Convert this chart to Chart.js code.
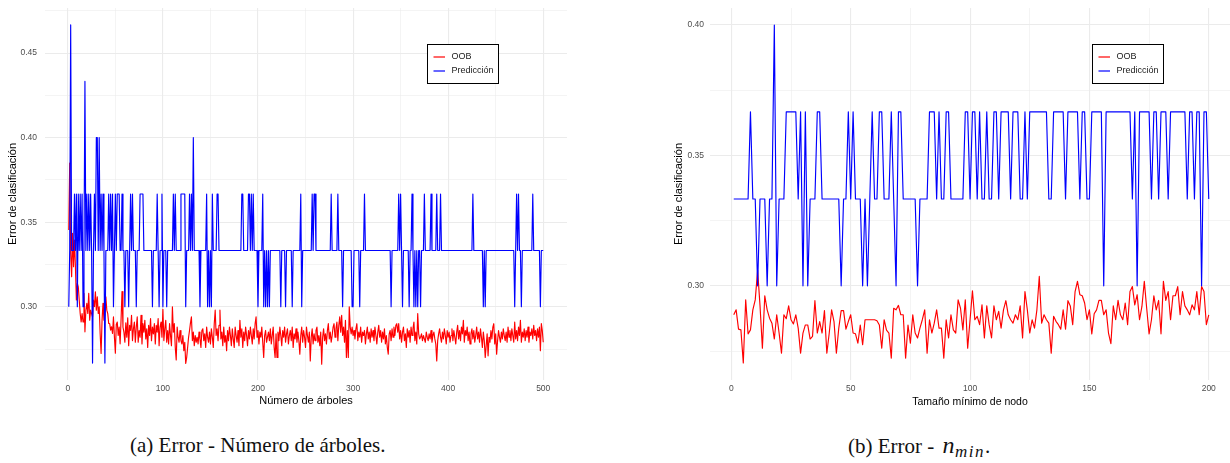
<!DOCTYPE html>
<html>
<head>
<meta charset="utf-8">
<script src="https://cdn.jsdelivr.net/npm/chart.js@4.4.1/dist/chart.umd.min.js"></script>
<style>
  html, body { margin: 0; padding: 0; background: #fff; width: 1230px; height: 463px; overflow: hidden; }
  .panel { position: absolute; top: 0; }
  #panelA { left: 0; }
  #panelB { left: 665px; }
  .cap { position: absolute; top: 435px; font-family: "Liberation Serif", "DejaVu Serif", serif; font-size: 21px; line-height: 21px; color: #111; white-space: nowrap; }
  #capA { left: 130px; }
  #capB { left: 848px; }
  #capB i { font-size: 24px; margin-left: 3px; letter-spacing: 0.5px; }
  #capB sub { font-size: 17px; font-style: italic; letter-spacing: 1.5px; vertical-align: -4px; line-height: 0; }
</style>
</head>
<body>
<div class="panel" id="panelA"><canvas id="chartA" width="567" height="412"></canvas></div>
<div class="panel" id="panelB"><canvas id="chartB" width="565" height="412"></canvas></div>
<div class="cap" id="capA">(a) Error - Número de árboles.</div>
<div class="cap" id="capB">(b) Error - <i>n</i><sub>min</sub>.</div>
<script>
// Random forest tuning: classification error (OOB vs. test-set prediction)

// (a) error by number of trees, trees 1..500
const arbolesOOB = [
  .3454,.385,.3316,.3178,.3434,.3237,.3395,.3237,.304,.3138,
  .3118,.304,.296,.2911,.296,.2911,.3079,.2852,.298,.302,
  .296,.3079,.2921,.298,.296,.294,.304,.30,.3089,.298,
  .3059,.296,.30,.2842,.2724,.2921,.302,.2921,.296,.3059,
  .298,.296,.2901,.2901,.2862,.2882,.2842,.294,.2822,.2725,
  .2895,.291,.283,.288,.2781,.2925,.309,.288,.285,.279,
  .2905,.282,.2935,.277,.289,.286,.295,.28,.287,.291,
  .279,.288,.294,.279,.286,.282,.295,.278,.29,.285,
  .292,.281,.287,.276,.289,.283,.293,.28,.288,.284,
  .29,.278,.289,.285,.293,.277,.288,.291,.282,.2985,
  .28,.287,.292,.279,.286,.278,.29,.283,.277,.30,
  .285,.29,.276,.2685,.288,.282,.279,.286,.28,.278,
  .283,.274,.279,.2665,.27,.276,.282,.286,.2905,.294,
  .28,.285,.277,.283,.279,.282,.278,.285,.281,.276,
  .286,.287,.28,.284,.276,.288,.282,.279,.285,.278,
  .287,.282,.276,.29,.298,.283,.287,.28,.289,.298,
  .281,.285,.277,.288,.279,.283,.274,.286,.28,.288,
  .283,.277,.287,.281,.276,.288,.283,.279,.286,.277,
  .292,.282,.287,.276,.285,.28,.288,.283,.277,.286,
  .281,.288,.283,.278,.287,.281,.29,.294,.282,.286,
  .278,.285,.282,.288,.279,.27,.283,.286,.279,.282,
  .285,.28,.287,.278,.283,.288,.276,.27,.284,.27,
  .285,.28,.288,.283,.277,.286,.282,.288,.279,.284,
  .287,.278,.283,.286,.28,.288,.276,.284,.281,.287,
  .279,.285,.28,.272,.283,.288,.279,.286,.282,.276,
  .288,.283,.279,.285,.268,.282,.287,.278,.284,.28,
  .286,.288,.279,.283,.277,.285,.266,.282,.287,.28,
  .284,.278,.286,.29,.281,.285,.279,.283,.288,.29,
  .282,.287,.291,.28,.289,.294,.285,.295,.283,.288,
  .279,.292,.27,.286,.27,.30,.288,.284,.288,.283,
  .286,.281,.287,.29,.28,.285,.282,.288,.279,.285,
  .283,.286,.278,.284,.288,.281,.285,.279,.287,.282,
  .286,.28,.288,.283,.278,.285,.289,.282,.286,.279,
  .285,.281,.287,.278,.283,.276,.272,.284,.286,.28,
  .287,.282,.288,.283,.289,.29,.285,.29,.281,.286,
  .279,.285,.288,.28,.284,.276,.287,.282,.286,.279,
  .288,.283,.287,.291,.28,.285,.278,.296,.284,.281,
  .282,.284,.28,.283,.281,.279,.285,.282,.28,.284,
  .281,.286,.279,.283,.285,.281,.278,.268,.28,.284,
  .287,.282,.279,.285,.281,.287,.283,.278,.286,.282,
  .285,.279,.283,.287,.28,.286,.282,.278,.285,.289,
  .281,.286,.28,.288,.284,.292,.279,.286,.283,.288,
  .28,.285,.278,.284,.287,.281,.286,.279,.283,.288,
  .281,.285,.279,.287,.282,.276,.285,.28,.27,.277,
  .284,.271,.282,.279,.286,.281,.288,.29,.278,.284,
  .272,.28,.286,.282,.279,.285,.281,.287,.283,.28,
  .285,.279,.288,.282,.286,.28,.287,.283,.279,.291,
  .281,.286,.28,.288,.283,.292,.279,.285,.282,.287,
  .28,.286,.282,.288,.279,.285,.283,.287,.281,.289,
  .283,.286,.28,.287,.282,.288,.274,.29,.286,.279
];
const arbolesPrediccion = [
  .3,.3333,.4667,.3333,.3333,.3333,.3667,.3333,.3667,.3,.3667,.3333,.3667,.3333,.3667,.3,.3333,.4333,.3333,.3667,
  .3333,.3667,.3333,.3667,.3333,.2667,.3333,.3667,.3333,.4,.4,.3333,.4,.3333,.3667,.3333,.3667,.3333,.2667,.3333,
  .3333,.3333,.3667,.3333,.3667,.3333,.3667,.3,.3333,.3667,.3333,.3667,.3667,.3667,.3333,.3333,.3667,.3333,.3333,.3,
  .3333,.3333,.3333,.3,.3333,.3667,.3333,.3667,.3333,.3333,.3333,.3,.3333,.3333,.3333,.3667,.3667,.3667,.3667,.3333,
  .3333,.3333,.3333,.3333,.3333,.3333,.3333,.3333,.3,.3333,.3333,.3333,.3333,.3667,.3333,.3,.3333,.3333,.3667,.3,
  .3333,.3333,.3333,.3,.3333,.3333,.3333,.3333,.3333,.3333,.3667,.3333,.3667,.3333,.3333,.3333,.3333,.3333,.3667,.3667,
  .3667,.3667,.3667,.3,.3333,.3333,.3333,.3667,.3333,.3667,.3333,.4,.3333,.3333,.3333,.3333,.3333,.3333,.3,.3333,
  .3333,.3333,.3333,.3333,.3333,.3667,.3,.3333,.3,.3333,.3,.3667,.3333,.3333,.3333,.3333,.3667,.3667,.3333,.3333,
  .3333,.3333,.3333,.3333,.3333,.3333,.3333,.3333,.3333,.3333,.3333,.3333,.3333,.3333,.3333,.3333,.3333,.3333,.3333,.3333,
  .3333,.3333,.3667,.3667,.3333,.3333,.3333,.3333,.3333,.3667,.3667,.3333,.3667,.3333,.3667,.3333,.3333,.3333,.3333,.3,
  .3333,.3333,.3333,.3333,.3667,.3,.3333,.3,.3333,.3,.3333,.3,.3333,.3333,.3333,.3333,.3333,.3333,.3333,.3333,
  .3333,.3333,.3333,.3,.3333,.3333,.3333,.3333,.3,.3333,.3333,.3333,.3333,.3333,.3333,.3,.3333,.3333,.3333,.3333,
  .3333,.3333,.3333,.3333,.3667,.3,.3333,.3333,.3333,.3333,.3333,.3333,.3333,.3333,.3333,.3333,.3667,.3333,.3667,.3667,
  .3333,.3333,.3333,.3333,.3333,.3333,.3333,.3333,.3333,.3333,.3333,.3333,.3333,.3333,.3333,.3333,.3667,.3333,.3333,.3333,
  .3333,.3333,.3333,.3667,.3333,.3333,.3333,.3333,.3,.3333,.3333,.3333,.3333,.3333,.3333,.3333,.3333,.3333,.3,.3,
  .3333,.3333,.3333,.3333,.3333,.3333,.3,.3333,.3333,.3333,.3333,.3667,.3333,.3333,.3333,.3333,.3333,.3333,.3333,.3333,
  .3333,.3333,.3333,.3333,.3333,.3333,.3333,.3333,.3333,.3333,.3333,.3333,.3333,.3333,.3333,.3333,.3333,.3333,.3333,.3,
  .3333,.3333,.3333,.3333,.3333,.3333,.3333,.3667,.3333,.3667,.3333,.3,.3333,.3333,.3333,.3333,.3333,.3333,.3,.3333,
  .3333,.3667,.3333,.3,.3333,.3,.3333,.3,.3333,.3333,.3,.3333,.3333,.3333,.3667,.3333,.3333,.3333,.3333,.3333,
  .3333,.3667,.3333,.3333,.3333,.3333,.3333,.3667,.3333,.3333,.3333,.3667,.3333,.3333,.3333,.3333,.3333,.3333,.3333,.3333,
  .3333,.3333,.3333,.3333,.3333,.3333,.3333,.3333,.3333,.3333,.3333,.3333,.3333,.3333,.3333,.3333,.3333,.3333,.3333,.3333,
  .3333,.3333,.3333,.3333,.3333,.3667,.3333,.3333,.3333,.3333,.3333,.3333,.3333,.3333,.3333,.3333,.3,.3333,.3,.3333,
  .3333,.3333,.3333,.3333,.3333,.3333,.3333,.3333,.3333,.3333,.3333,.3333,.3333,.3333,.3333,.3333,.3333,.3333,.3333,.3333,
  .3333,.3333,.3333,.3333,.3333,.3333,.3333,.3333,.3333,.3,.3333,.3667,.3333,.3667,.3333,.3333,.3,.3333,.3333,.3333,
  .3333,.3333,.3333,.3333,.3333,.3333,.3333,.3333,.3667,.3333,.3333,.3333,.3333,.3333,.3333,.3333,.3,.3333,.3333,.3333
];

// (b) error by minimum node size, n_min 1..200
const nodoOOB = [
  .2889,.2908,.2834,.2831,.2704,.2946,.2816,.2831,.2908,.2946,
  .306,.2925,.2761,.2962,.2908,.2876,.2857,.2796,.2889,.2819,
  .2742,.2889,.2874,.2923,.287,.2854,.2889,.2838,.2742,.2819,
  .285,.285,.2796,.2806,.2943,.2819,.2863,.2819,.2905,.2742,
  .2819,.2908,.2863,.2742,.2838,.2905,.2905,.2834,.2863,.2889,
  .2819,.2816,.278,.285,.2774,.287,.287,.287,.287,.287,
  .2866,.285,.2761,.287,.283,.2819,.2723,.2914,.2908,.2925,
  .2889,.2889,.2723,.285,.278,.2889,.2819,.28,.2838,.287,
  .2908,.2742,.287,.2819,.2857,.2908,.2838,.2838,.2723,.287,
  .28,.2889,.2831,.2819,.2946,.2914,.2831,.2946,.2761,.287,
  .2981,.287,.2883,.2851,.2927,.28,.2923,.2851,.28,.2923,
  .287,.2902,.2838,.2908,.2943,.2889,.287,.2857,.2889,.287,
  .2923,.28,.2978,.2908,.2819,.287,.2838,.2908,.3036,.2857,
  .2889,.287,.2857,.2742,.2883,.2864,.2851,.2834,.2908,.2834,
  .2943,.2923,.2851,.2978,.3017,.2966,.2962,.2934,.287,.2908,
  .2816,.2893,.2908,.2944,.2944,.2889,.2908,.2819,.2778,.2923,
  .287,.2944,.2889,.287,.2934,.2851,.2978,.2997,.2927,.2966,
  .287,.2921,.3017,.2914,.2816,.287,.2962,.2908,.2944,.2816,
  .3017,.2944,.2978,.287,.2962,.2962,.2997,.2889,.2978,.2923,
  .2908,.2889,.2927,.2908,.2978,.2889,.2997,.2978,.2851,.2889
];
const nodoPrediccion = [
  .3333,.3333,.3333,.3333,.3333,.3333,.3333,.3667,.3333,.3333,.3,.3333,.3333,.3333,.3,.3333,.3333,.4,.3,.3333,
  .3333,.3333,.3667,.3667,.3667,.3667,.3667,.3333,.3667,.3,.3667,.3,.3333,.3333,.3333,.3667,.3667,.3333,.3333,.3333,
  .3333,.3333,.3333,.3333,.3333,.3,.3333,.3333,.3667,.3333,.3667,.3333,.3333,.3333,.3,.3333,.3,.3333,.3667,.3333,
  .3333,.3667,.3667,.3333,.3333,.3333,.3667,.3333,.3,.3667,.3667,.3333,.3333,.3333,.3333,.3333,.3333,.3,.3333,.3333,
  .3333,.3333,.3667,.3667,.3667,.3333,.3667,.3333,.3333,.3667,.3667,.3333,.3333,.3333,.3333,.3333,.3333,.3667,.3667,.3333,
  .3667,.3667,.3333,.3667,.3333,.3333,.3667,.3333,.3333,.3667,.3667,.3333,.3667,.3667,.3667,.3667,.3333,.3667,.3667,.3667,
  .3333,.3333,.3667,.3333,.3667,.3667,.3667,.3667,.3667,.3667,.3667,.3667,.3333,.3333,.3667,.3667,.3667,.3667,.3667,.3333,
  .3667,.3667,.3667,.3667,.3667,.3333,.3667,.3667,.3333,.3333,.3667,.3667,.3667,.3667,.3667,.3,.3667,.3667,.3667,.3667,
  .3667,.3667,.3667,.3667,.3667,.3667,.3667,.3333,.3667,.3,.3667,.3667,.3667,.3667,.3667,.3333,.3667,.3667,.3333,.3667,
  .3667,.3667,.3333,.3667,.3667,.3667,.3667,.3667,.3667,.3667,.3333,.3667,.3667,.3333,.3667,.3667,.3,.3667,.3667,.3333
];

// axis breaks
const arbolesXMajor = [0, 100, 200, 300, 400, 500];
const arbolesXMinor = [50, 150, 250, 350, 450];
const arbolesYMajor = [0.30, 0.35, 0.40, 0.45];
const arbolesYMinor = [0.275, 0.325, 0.375, 0.425, 0.475];
const nodoXMajor = [0, 50, 100, 150, 200];
const nodoXMinor = [25, 75, 125, 175];
const nodoYMajor = [0.30, 0.35, 0.40];
const nodoYMinor = [0.275, 0.325, 0.375];

const seriesLabels = ['OOB', 'Predicción'];
const seriesColors = ['#ff0000', '#0000ff'];

Chart.defaults.font.family = '"Liberation Sans", Arial, Helvetica, sans-serif';
Chart.defaults.animation = false;

// framed legend drawn inside the plot panel
const boxLegend = {
  id: 'boxLegend',
  afterDraw(chart, args, opts) {
    const { ctx, chartArea } = chart;
    const x = Math.round(chartArea.left + opts.dx) + 0.5;
    const y = Math.round(chartArea.top + opts.dy) + 0.5;
    ctx.save();
    ctx.fillStyle = '#ffffff';
    ctx.fillRect(x, y, opts.w, opts.h);
    ctx.strokeStyle = '#000000';
    ctx.lineWidth = 1;
    ctx.strokeRect(x, y, opts.w, opts.h);
    ctx.font = '9px "Liberation Sans", Arial, sans-serif';
    ctx.textBaseline = 'middle';
    ctx.textAlign = 'left';
    chart.data.datasets.forEach((ds, i) => {
      const ly = y + 12.5 + i * 14;
      ctx.strokeStyle = ds.borderColor;
      ctx.lineWidth = 1.2;
      ctx.beginPath();
      ctx.moveTo(x + 6, ly);
      ctx.lineTo(x + 17.5, ly);
      ctx.stroke();
      ctx.fillStyle = '#1a1a1a';
      ctx.fillText(ds.label, x + 24, ly);
    });
    ctx.restore();
  }
};

function toPoints(values) {
  return values.map((v, i) => ({ x: i + 1, y: v }));
}

function makeAxis(o) {
  const all = o.majors.concat(o.minors).sort((a, b) => a - b);
  const horizontal = o.horizontal;
  return {
    type: 'linear',
    min: o.min,
    max: o.max,
    afterBuildTicks(scale) { scale.ticks = all.map(v => ({ value: v })); },
    afterFit(scale) {
      if (horizontal) scale.height = o.size; else scale.width = o.size;
      scale.paddingTop = 0; scale.paddingBottom = 0;
      scale.paddingLeft = 0; scale.paddingRight = 0;
    },
    ticks: {
      autoSkip: false,
      maxRotation: 0,
      minRotation: 0,
      padding: o.labelPad,
      color: '#4d4d4d',
      font: { size: 8.5 },
      callback: v => o.majors.includes(v) ? o.fmt(v) : ''
    },
    grid: {
      drawTicks: false,
      color: '#ebebeb',
      lineWidth: ctx => (ctx.tick && o.majors.includes(ctx.tick.value)) ? 1.1 : 0.55
    },
    border: { display: false },
    title: {
      display: true,
      text: o.title,
      color: '#000000',
      font: { size: o.titleSize },
      padding: o.titlePad
    }
  };
}

function makeChart(id, oob, pred, xo, yo) {
  new Chart(document.getElementById(id), {
    type: 'line',
    data: {
      datasets: [
        { label: seriesLabels[0], data: toPoints(oob), borderColor: seriesColors[0], order: 2 },
        { label: seriesLabels[1], data: toPoints(pred), borderColor: seriesColors[1], order: 1 }
      ]
    },
    options: {
      responsive: false,
      animation: false,
      events: [],
      layout: { padding: { top: 8, left: 0, right: 0, bottom: 0 } },
      elements: {
        line: { borderWidth: 1.15, tension: 0, borderJoinStyle: 'round', fill: false },
        point: { radius: 0 }
      },
      plugins: {
        legend: { display: false },
        tooltip: { enabled: false },
        boxLegend: { dx: 382, dy: 36, w: 71, h: 39 }
      },
      scales: {
        x: makeAxis(xo),
        y: makeAxis(yo)
      }
    },
    plugins: [boxLegend]
  });
}

makeChart('chartA', arbolesOOB, arbolesPrediccion,
  { horizontal: true, min: -24, max: 525, majors: arbolesXMajor, minors: arbolesXMinor,
    fmt: v => String(v), labelPad: 4, size: 32,
    title: 'Número de árboles', titleSize: 11, titlePad: { top: 0, bottom: 4 } },
  { horizontal: false, min: 0.2567, max: 0.4767, majors: arbolesYMajor, minors: arbolesYMinor,
    fmt: v => v.toFixed(2), labelPad: 8, size: 45,
    title: 'Error de clasificación', titleSize: 11, titlePad: { top: 6.5, bottom: 0 } });

makeChart('chartB', nodoOOB, nodoPrediccion,
  { horizontal: true, min: -8.95, max: 208.9, majors: nodoXMajor, minors: nodoXMinor,
    fmt: v => String(v), labelPad: 4, size: 32,
    title: 'Tamaño mínimo de nodo', titleSize: 10.5, titlePad: { top: 0, bottom: 4 } },
  { horizontal: false, min: 0.2639, max: 0.4065, majors: nodoYMajor, minors: nodoYMinor,
    fmt: v => v.toFixed(2), labelPad: 6, size: 45,
    title: 'Error de clasificación', titleSize: 11, titlePad: { top: 7.5, bottom: 0 } });
</script>
</body>
</html>
